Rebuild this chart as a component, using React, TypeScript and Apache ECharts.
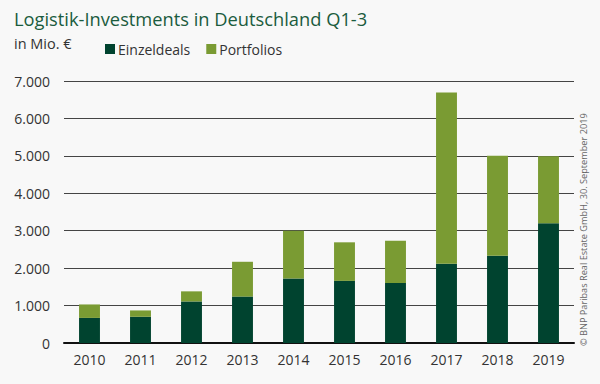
import React, { useEffect, useRef } from "react";
import * as echarts from "echarts";

const years = ["2010", "2011", "2012", "2013", "2014", "2015", "2016", "2017", "2018", "2019"];
const einzeldeals = [670, 700, 1110, 1240, 1720, 1660, 1600, 2120, 2330, 3200];
const portfolios = [360, 170, 270, 930, 1280, 1030, 1130, 4570, 2670, 1790];
const yTicks = [0, 1000, 2000, 3000, 4000, 5000, 6000, 7000];

const DARK = "#00432f";
const LIGHT = "#7a9b33";
const FONT = "Open Sans";

const fmt = (v: number) => (v === 0 ? "0" : (v / 1000).toFixed(3));

export default function App() {
  const ref = useRef<HTMLDivElement>(null);
  useEffect(() => {
    const chart = echarts.init(ref.current!, null, { renderer: "svg" });
    chart.setOption({
      animation: false,
      backgroundColor: "#f8f8f8",
      textStyle: { fontFamily: FONT },
      title: {
        text: "Logistik-Investments in Deutschland Q1-3",
        left: 9,
        top: 4,
        textStyle: { color: "#1b5c3e", fontSize: 18.3, fontWeight: "normal", fontFamily: FONT },
      },
      graphic: [
        {
          type: "text",
          left: 14,
          top: 36,
          style: { text: "in Mio. €", fill: "#333", fontSize: 14.5, fontFamily: FONT },
        },
        {
          type: "text",
          x: 583,
          y: 346,
          rotation: Math.PI / 2,
          style: {
            text: "© BNP Paribas Real Estate GmbH, 30. September 2019",
            fill: "#666",
            fontSize: 9.2,
            fontFamily: FONT,
            align: "left",
            verticalAlign: "middle",
          },
        },
      ],
      legend: {
        left: 100,
        top: 37,
        itemWidth: 10,
        itemHeight: 10,
        itemGap: 16,
        icon: "rect",
        textStyle: { color: "#333", fontSize: 14, fontFamily: FONT, padding: [0, 0, 0, -2] },
        data: ["Einzeldeals", "Portfolios"],
      },
      grid: { left: 64, right: 26, top: 81, bottom: 41 },
      xAxis: {
        type: "category",
        data: years,
        axisLine: { show: true, lineStyle: { color: "#111", width: 2 } },
        axisTick: { show: false },
        axisLabel: { color: "#333", fontSize: 14, margin: 9, fontFamily: FONT },
      },
      yAxis: {
        type: "value",
        min: yTicks[0],
        max: yTicks[yTicks.length - 1],
        interval: 1000,
        axisLine: { show: false },
        axisTick: { show: false },
        axisLabel: { color: "#333", fontSize: 14, margin: 14, formatter: fmt, fontFamily: FONT },
        splitLine: { lineStyle: { color: "#444", width: 1 } },
      },
      series: [
        {
          name: "Einzeldeals",
          type: "bar",
          stack: "a",
          data: einzeldeals,
          barWidth: "41%",
          itemStyle: { color: DARK },
        },
        {
          name: "Portfolios",
          type: "bar",
          stack: "a",
          data: portfolios,
          barWidth: "41%",
          itemStyle: { color: LIGHT },
        },
      ],
    });
    return () => chart.dispose();
  }, []);
  return <div ref={ref} style={{ width: 600, height: 384, position: "absolute", left: 0, top: 0 }} />;
}
